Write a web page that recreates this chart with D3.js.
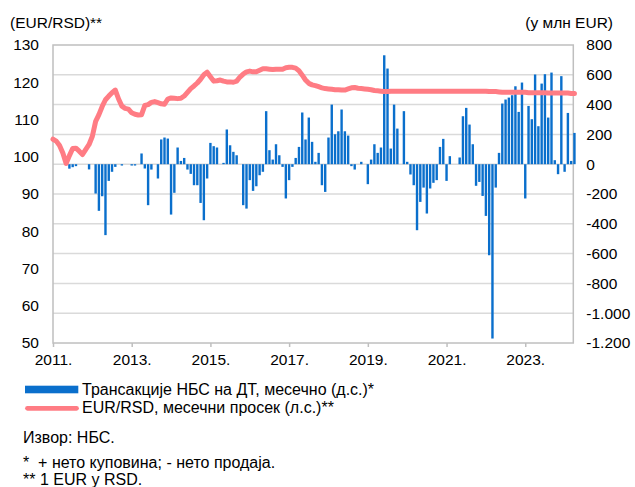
<!DOCTYPE html>
<html>
<head>
<meta charset="utf-8">
<script src="https://cdn.jsdelivr.net/npm/d3@7"></script>
<style>
  html, body { margin: 0; padding: 0; background: #fff; }
  svg { display: block; }
  text { font-family: "Liberation Sans", Arial, sans-serif; fill: #000; }
</style>
</head>
<body>
<svg id="chart" width="635" height="487"></svg>
<script>
// ---- DATA ----
// monthly index 0 = Jan 2011 ... 159 = Apr 2024
const yearLabels = ["2011.", "2013.", "2015.", "2017.", "2019.", "2021.", "2023."];
const yearTickIdx = [0, 24, 48, 72, 96, 120, 144];
const leftTicks = [50, 60, 70, 80, 90, 100, 110, 120, 130];
const rightTicks = [-1200, -1000, -800, -600, -400, -200, 0, 200, 400, 600, 800];

// NBS FX transactions, mn EUR (right scale)
const transactions = [
  0, 0, 0, 0, 0, -30, -20, -13, 0, 0, 0, -35,
  0, -197, -313, -215, -476, -112, -51, -18, 0, -9, 0, 0,
  -9, -9, 0, 72, -29, -275, -36, 0, -96, 166, 179, 172,
  -338, -192, 112, 22, 42, -36, -65, -141, -141, -260, -376, -96,
  143, 121, 112, 0, 9, 233, 127, 83, 60, 0, -275, -298,
  -107, -179, -148, -74, -51, 356, 94, 31, 134, 60, -18, -230,
  -107, -18, 42, 116, 347, 166, 313, 150, 16, 76, -141, -186,
  179, 400, 201, 221, 367, 221, 192, -13, -36, 0, 16, 0,
  -134, 31, 134, 76, 112, 731, 642, 105, 400, 239, 0, 356,
  16, -69, -141, -443, -253, -157, -331, -163, -125, -107, 116, 170,
  -112, 54, 0, 0, 45, 322, 378, 266, 134, -145, -119, -213,
  -347, -611, -1170, -157, 76, 407, 434, 447, 463, 523, 351, 548,
  -230, 391, 302, 602, 255, 541, 604, 313, 615, 27, -67, 591,
  -51, 344, 22, 210
];

// EUR/RSD monthly average (left scale)
const eurRsd = [
  104.7, 104.2, 103.0, 101.0, 98.2, 100.3, 102.2, 102.3, 101.5, 100.6, 102.0, 103.3,
  105.5, 109.5, 111.3, 113.5, 115.3, 116.3, 117.2, 117.9, 115.5, 113.6, 113.0, 112.8,
  111.8, 111.4, 111.2, 111.3, 113.8, 114.0, 114.6, 114.8, 114.5, 114.2, 114.1, 115.5,
  115.8, 115.7, 115.6, 115.7, 116.3, 117.3, 118.3, 119.0, 119.8, 120.8, 122.0, 122.7,
  121.5, 120.3, 120.4, 120.6, 120.3, 120.1, 120.1, 120.0, 120.3, 121.4, 122.2, 122.8,
  123.0, 122.8, 122.8, 123.2, 123.6, 123.6, 123.5, 123.4, 123.5, 123.5, 123.5, 123.9,
  124.0, 124.0, 123.8, 123.1, 121.9, 120.6, 119.7, 119.3, 119.1, 118.8, 118.5, 118.3,
  118.2, 118.1, 118.0, 118.0, 117.9, 117.9, 118.2, 118.5, 118.6, 118.4, 118.3, 118.2,
  118.1, 118.0, 117.8, 117.7, 117.6, 117.5, 117.5, 117.6, 117.6, 117.6, 117.6, 117.6,
  117.6, 117.6, 117.6, 117.6, 117.6, 117.6, 117.6, 117.6, 117.6, 117.6, 117.6, 117.6,
  117.6, 117.6, 117.6, 117.6, 117.6, 117.6, 117.6, 117.6, 117.6, 117.6, 117.6, 117.6,
  117.6, 117.5, 117.5, 117.5, 117.4, 117.3, 117.3, 117.3, 117.3, 117.3, 117.3, 117.3,
  117.3, 117.2, 117.2, 117.2, 117.2, 117.2, 117.2, 117.1, 117.1, 117.1, 117.1, 117.1,
  117.1, 117.1, 117.0, 117.0
];

const texts = {
  leftTitle: "(EUR/RSD)**",
  rightTitle: "(у млн EUR)",
  legendBars: "Трансакције НБС на ДТ, месечно (д.с.)*",
  legendLine: "EUR/RSD, месечни просек (л.с.)**",
  source: "Извор: НБС.",
  note1: "*  + нето куповина; - нето продаја.",
  note2: "** 1 EUR у RSD."
};

// ---- DRAW ----
const svg = d3.select("#chart");
const L = 53, R = 573.3, T = 45, B = 343;
const FS = 15.5, FS2 = 16;
const FF = "Liberation Sans, Arial, sans-serif";
const BLUE = "#0a6fcc", PINK = "#ff7c84", FRAME = "#bfbfbf", GRID = "#dadada";

const x = d3.scaleLinear().domain([0, 158.65]).range([L, R]);
const yL = d3.scaleLinear().domain([50, 130]).range([B, T]);
const yR = d3.scaleLinear().domain([-1200, 800]).range([B, T]);

const loc = d3.formatLocale({decimal: ",", thousands: ".", grouping: [3], currency: ["", ""], minus: "-"});
const fmtR = loc.format(",d");

// gridlines (right scale)
svg.append("g").selectAll("line").data(rightTicks.filter(d => d > -1200 && d < 800)).join("line")
  .attr("x1", L).attr("x2", R).attr("y1", d => yR(d)).attr("y2", d => yR(d))
  .attr("stroke", GRID).attr("stroke-width", 1.5);

// frame
svg.append("rect").attr("x", L).attr("y", T).attr("width", R - L).attr("height", B - T)
  .attr("fill", "none").attr("stroke", FRAME).attr("stroke-width", 1.5);

// bars
const bw = 2.4;
svg.append("g").selectAll("rect").data(transactions.map((v, i) => ({v, i})).filter(d => d.v !== 0)).join("rect")
  .attr("x", d => x(d.i) - bw / 2)
  .attr("width", bw)
  .attr("y", d => Math.min(yR(d.v), yR(0)))
  .attr("height", d => Math.abs(yR(d.v) - yR(0)))
  .attr("fill", BLUE);

// line
const line = d3.line().x((d, i) => x(i)).y(d => yL(d)).curve(d3.curveLinear);
svg.append("path").datum(eurRsd).attr("d", line)
  .attr("fill", "none").attr("stroke", PINK).attr("stroke-width", 5)
  .attr("stroke-linejoin", "round").attr("stroke-linecap", "round");

// x axis
const xAxis = d3.axisBottom(x).tickValues(yearTickIdx)
  .tickFormat((d, i) => yearLabels[i]).tickSize(4).tickPadding(7);
const gx = svg.append("g").attr("transform", `translate(0,${B})`).call(xAxis);
gx.select(".domain").remove();
gx.selectAll(".tick line").attr("stroke", FRAME).attr("stroke-width", 1.5);
gx.selectAll(".tick text").attr("font-size", FS).attr("font-family", FF).attr("fill", "#000");

// left axis
const yAxisL = d3.axisLeft(yL).tickValues(leftTicks).tickFormat(d3.format("d")).tickSize(0).tickPadding(14);
const gl = svg.append("g").attr("transform", `translate(${L},0)`).call(yAxisL);
gl.select(".domain").remove();
gl.selectAll(".tick text").attr("font-size", FS).attr("font-family", FF).attr("fill", "#000");

// right axis
const yAxisR = d3.axisRight(yR).tickValues(rightTicks).tickFormat(fmtR).tickSize(0).tickPadding(13);
const gr = svg.append("g").attr("transform", `translate(${R},0)`).call(yAxisR);
gr.select(".domain").remove();
gr.selectAll(".tick text").attr("font-size", FS).attr("font-family", FF).attr("fill", "#000");

// axis titles
svg.append("text").attr("x", 10).attr("y", 27.5).attr("font-size", FS).text(texts.leftTitle);
svg.append("text").attr("x", 613).attr("y", 27.5).attr("font-size", FS).attr("text-anchor", "end").text(texts.rightTitle);

// legend
svg.append("rect").attr("x", 25).attr("y", 385.7).attr("width", 53.3).attr("height", 7.6).attr("fill", BLUE);
svg.append("text").attr("x", 82).attr("y", 395).attr("font-size", FS2).text(texts.legendBars);
svg.append("line").attr("x1", 27.5).attr("x2", 76.5).attr("y1", 408.3).attr("y2", 408.3)
  .attr("stroke", PINK).attr("stroke-width", 4.8).attr("stroke-linecap", "round");
svg.append("text").attr("x", 82).attr("y", 413.3).attr("font-size", FS2).text(texts.legendLine);

// notes
svg.append("text").attr("x", 23).attr("y", 442.7).attr("font-size", FS2).text(texts.source);
svg.append("text").attr("x", 23).attr("y", 468.3).attr("font-size", FS2).style("white-space", "pre").text(texts.note1);
svg.append("text").attr("x", 23).attr("y", 484.5).attr("font-size", FS2).style("white-space", "pre").text(texts.note2);
</script>
</body>
</html>
